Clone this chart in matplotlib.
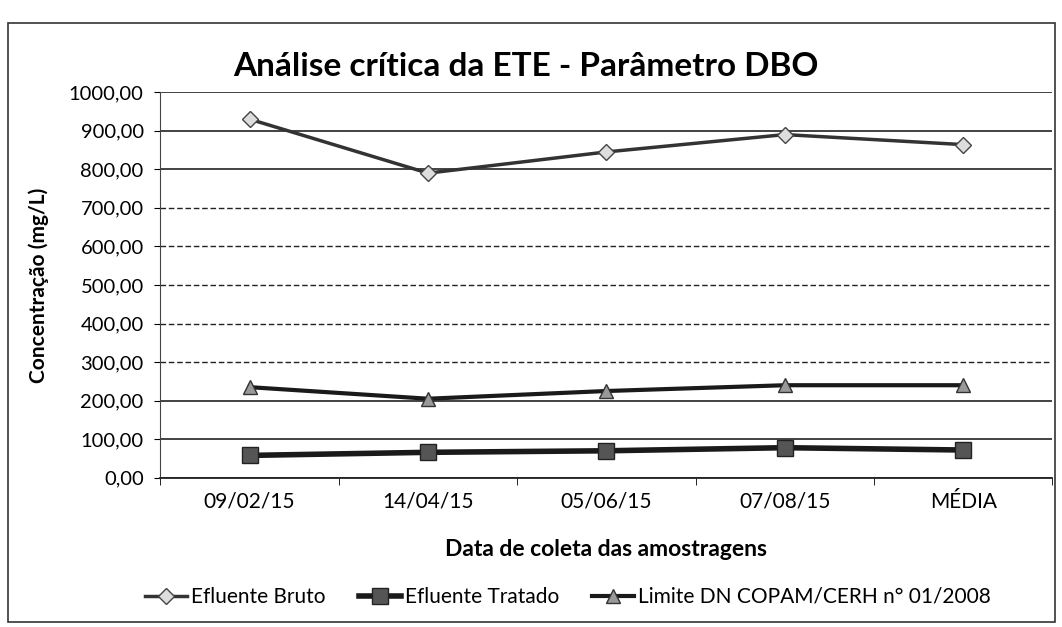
import matplotlib
matplotlib.use("Agg")
import matplotlib.pyplot as plt
from matplotlib.patches import Rectangle

# data
categorias = ["09/02/15", "14/04/15", "05/06/15", "07/08/15", "MÉDIA"]
efluente_bruto = [930, 790, 845, 890, 864]
efluente_tratado = [58, 66, 70, 78, 72]
limite_copam = [235, 205, 225, 240, 240]
y_ticks = [0, 100, 200, 300, 400, 500, 600, 700, 800, 900, 1000]

plt.rcParams['font.family'] = ['Lato', 'DejaVu Sans']

fig = plt.figure(figsize=(10.62, 6.27), dpi=100)
ax = fig.add_axes([0.151, 0.238, 0.84, 0.615])

x = range(len(categorias))
ax.plot(x, efluente_bruto, color='#333333', linewidth=2.5, marker='D',
        markersize=8, markerfacecolor='#dddddd', markeredgecolor='#444444',
        label='Efluente Bruto', zorder=3)
ax.plot(x, efluente_tratado, color='#1a1a1a', linewidth=4, marker='s',
        markersize=11, markerfacecolor='#555555', markeredgecolor='#222222',
        label='Efluente Tratado', zorder=3)
ax.plot(x, limite_copam, color='#1a1a1a', linewidth=3, marker='^',
        markersize=10, markerfacecolor='#999999', markeredgecolor='#333333',
        label='Limite DN COPAM/CERH n° 01/2008', zorder=3)

ax.set_xlim(-0.5, len(categorias) - 0.5)
ax.set_ylim(0, 1000)
ax.set_yticks(y_ticks)
ax.set_yticklabels([f"{v:.2f}".replace('.', ',') for v in y_ticks], fontsize=14.5)
ax.set_xticks(list(x))
ax.set_xticklabels(categorias, fontsize=15)
ax.set_xticks([i + 0.5 for i in range(-1, len(categorias))], minor=True)
ax.tick_params(axis='x', which='major', length=0, pad=10)
ax.tick_params(axis='x', which='minor', length=5, direction='out')
ax.tick_params(axis='y', length=4, direction='out', pad=8)

# horizontal grid: solid near top/bottom, dashed in the middle (as in the scan)
ax.yaxis.grid(True, color='#222222', linewidth=1.2)
for val, gl in zip(y_ticks, ax.get_ygridlines()):
    if 300 <= val <= 700:
        gl.set_linestyle((0, (4, 2)))
        gl.set_linewidth(1.0)
ax.set_axisbelow(True)

for side in ['top', 'right']:
    ax.spines[side].set_visible(False)
ax.spines['left'].set_color('#444444')
ax.spines['bottom'].set_color('#222222')
ax.spines['bottom'].set_linewidth(1.3)

ax.set_title('Análise crítica da ETE - Parâmetro DBO', fontsize=24,
             fontweight='bold', pad=12, x=0.41)
ax.set_ylabel('Concentração (mg/L)', fontsize=15, fontweight='bold', labelpad=14)
ax.set_xlabel('Data de coleta das amostragens', fontsize=16.5, fontweight='bold', labelpad=20)

fig.legend(loc='center', bbox_to_anchor=(0.535, 0.048), ncol=3, frameon=False,
           fontsize=15, handlelength=2.0, handletextpad=0.2, columnspacing=1.6)

# outer chart border
fig.patches.append(Rectangle((0.008, 0.008), 0.985, 0.955, transform=fig.transFigure,
                             fill=False, edgecolor='#333333', linewidth=1.2))

fig.savefig('out.png', dpi=100)
